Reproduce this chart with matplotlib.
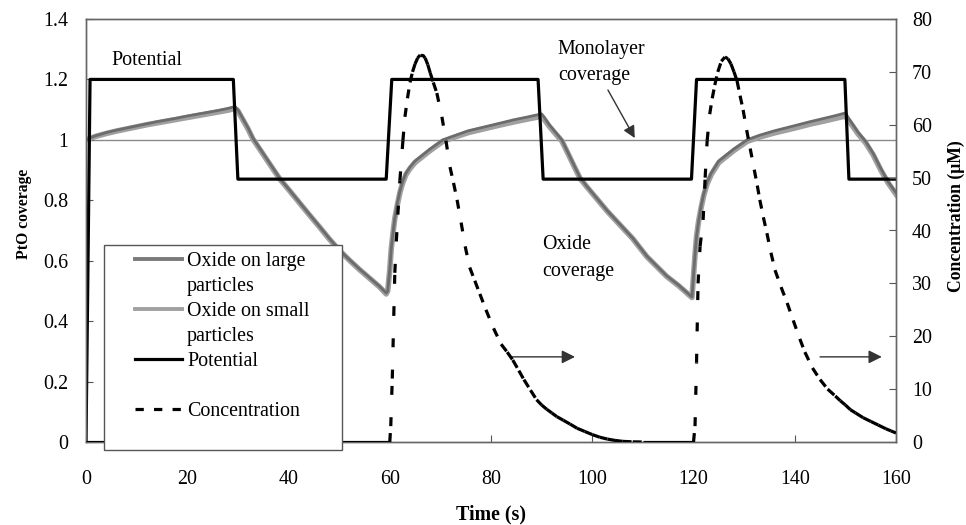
import numpy as np
import matplotlib
matplotlib.use('Agg')
import matplotlib.pyplot as plt
from matplotlib.collections import LineCollection
from matplotlib.lines import Line2D
from matplotlib.patches import Rectangle

plt.rcParams['font.family'] = ['Liberation Serif', 'DejaVu Serif']

# PtO coverage
t_ox = [0, 1, 2, 4, 6, 8, 10, 12, 14, 16, 18, 20, 22, 24, 26, 28, 29.4,
        30, 31, 32, 33, 34, 35, 36, 37, 38.3, 40, 42, 44, 46, 48, 50, 52, 54, 56, 58, 59.3,
        59.6, 60.0, 60.3, 60.7, 61.0, 61.5, 62.0, 62.5, 63.2, 64.0, 65, 66.5, 68, 70.5,
        73, 75.5, 78, 81, 84.4, 87, 90,
        90.5, 91.5, 92.5, 94, 95, 96, 97.6, 99, 101, 103, 105.5, 108, 110.8, 114.7, 117, 119.7,
        120.0, 120.3, 120.6, 121.0, 121.5, 122.0, 122.7, 123.5, 125, 126.5, 128, 130.6,
        133, 136, 140, 143, 146, 148, 150,
        150.5, 151.5, 152.5, 154, 155.5, 157, 158.5, 160]
ox_large = [1.00, 1.008, 1.014, 1.024, 1.032, 1.039, 1.046, 1.053, 1.060, 1.066, 1.072, 1.079,
            1.085, 1.091, 1.097, 1.104, 1.110,
            1.100, 1.070, 1.040, 1.005, 0.980, 0.955, 0.930, 0.905, 0.872, 0.838, 0.797, 0.756,
            0.716, 0.675, 0.637, 0.604, 0.573, 0.544, 0.515, 0.493,
            0.50, 0.57, 0.64, 0.70, 0.74, 0.79, 0.83, 0.86, 0.89, 0.91, 0.93, 0.95, 0.97, 1.00,
            1.015, 1.03, 1.04, 1.052, 1.066, 1.075, 1.086,
            1.075, 1.05, 1.03, 1.00, 0.965, 0.93, 0.875, 0.845, 0.805, 0.765, 0.72, 0.675,
            0.615, 0.55, 0.52, 0.48,
            0.55, 0.62, 0.68, 0.73, 0.78, 0.82, 0.86, 0.89, 0.93, 0.95, 0.97, 1.00,
            1.015, 1.03, 1.047, 1.06, 1.072, 1.08, 1.089,
            1.075, 1.05, 1.025, 0.995, 0.955, 0.905, 0.86, 0.825]
ox_small = [1.00, 1.006, 1.012, 1.021, 1.029, 1.036, 1.043, 1.050, 1.056, 1.062, 1.068, 1.074,
            1.080, 1.086, 1.092, 1.098, 1.104,
            1.096, 1.066, 1.036, 1.002, 0.977, 0.952, 0.927, 0.902, 0.870, 0.836, 0.795, 0.754,
            0.714, 0.673, 0.635, 0.602, 0.571, 0.542, 0.513, 0.490,
            0.50, 0.57, 0.64, 0.70, 0.74, 0.785, 0.825, 0.855, 0.885, 0.905, 0.925, 0.945, 0.965,
            0.995, 1.01, 1.024, 1.034, 1.046, 1.059, 1.068, 1.078,
            1.068, 1.045, 1.025, 0.996, 0.962, 0.927, 0.872, 0.843, 0.803, 0.763, 0.718, 0.673,
            0.613, 0.548, 0.518, 0.478,
            0.55, 0.62, 0.68, 0.73, 0.775, 0.815, 0.855, 0.885, 0.925, 0.945, 0.965, 0.995,
            1.009, 1.023, 1.039, 1.052, 1.063, 1.071, 1.079,
            1.067, 1.044, 1.02, 0.99, 0.95, 0.9, 0.856, 0.82]

# applied potential, plotted on the PtO axis
t_pot = [0, 0.8, 29.1, 30.0, 59.3, 60.4, 89.3, 90.3, 119.6, 120.6, 149.9, 150.7, 160]
pot = [0, 1.2, 1.2, 0.87, 0.87, 1.2, 1.2, 0.87, 0.87, 1.2, 1.2, 0.87, 0.87]

# dissolved Pt concentration (uM)
t_conc = [0, 60.0, 60.2, 60.5, 60.8, 61.0, 61.3, 61.6, 62.0, 62.6, 63.0, 63.5, 64.0, 64.5,
          65.0, 65.5, 66.0, 66.5, 67.0, 67.5, 68.0, 68.6, 69.3, 70.3, 71.1, 71.9, 72.6, 73.3,
          74.1, 74.9, 75.8, 76.8, 77.8, 79, 80.5, 82, 83.2, 84.3, 85.5, 86.5, 87.8, 89, 90, 91,
          92, 93, 94.3, 95.6, 97, 98.5, 100, 101.5, 103, 104.5, 106, 108, 110, 120.0,
          120.3, 120.6, 120.9, 121.3, 121.9, 122.3, 122.7, 123.2, 123.7, 124.2, 124.8, 125.5,
          126.2, 126.8, 127.4, 128, 128.6, 129.2, 129.8, 130.5, 131.2, 132, 132.6, 133.1, 133.8,
          134.5, 135.3, 136.1, 137.3, 138.5, 139.7, 141, 142, 143.5, 145, 146.5, 148, 149,
          150, 151, 152, 153.5, 155, 156.5, 158, 159, 160]
conc = [0, 0, 3, 12, 24, 32, 38, 43, 49.5, 57, 61.5, 65, 68, 70,
        71.5, 72.6, 73.2, 73.2, 72.6, 71.4, 69.8, 68, 66, 61.5, 57, 52, 49, 45.8,
        41.5, 37, 33, 30.5, 28, 25, 21.5, 18.5, 17, 15.5, 13.5, 11.8, 9.8, 8, 7, 6.2,
        5.5, 4.8, 4.1, 3.4, 2.6, 2.0, 1.4, 0.9, 0.55, 0.3, 0.12, 0.03, 0, 0,
        3, 15, 30, 37, 42, 50, 57, 62, 65, 67.5, 70, 72,
        72.8, 72.5, 71.5, 70, 68.3, 65.5, 62.8, 59, 55.5, 51.5, 48.5, 45.8, 42.5,
        39.5, 35.8, 32.5, 29.3, 26.3, 23, 19.5, 17, 14, 11.8, 10, 8.7, 7.8,
        7, 6.1, 5.5, 4.6, 3.9, 3.2, 2.5, 2.1, 1.7]

monolayer = 1.0
xticks = [0, 20, 40, 60, 80, 100, 120, 140, 160]
yticks_left = [0, 0.2, 0.4, 0.6, 0.8, 1.0, 1.2, 1.4]
ylabels_left = ['0', '0.2', '0.4', '0.6', '0.8', '1', '1.2', '1.4']
yticks_right = [0, 10, 20, 30, 40, 50, 60, 70, 80]

FS = 14.4
W, H = 966, 525
fig = plt.figure(figsize=(W / 100, H / 100), dpi=100)
ax = fig.add_axes([86 / W, 1 - 442 / H, 810 / W, 423 / H])
ax2 = ax.twinx()
ax2.patch.set_visible(False)

ax.axhline(monolayer, color='#8a8a8a', lw=1, zorder=1)
ax.plot(t_ox, ox_small, color='#a0a0a0', lw=4.0, zorder=2)
ax.plot(t_ox, ox_large, color='#6c6c6c', lw=2.0, zorder=3)
ax.plot(t_pot, pot, color='black', lw=2.3, zorder=4)

# dashed concentration, dash pattern restarts on every segment
pts = np.column_stack([t_conc, conc])
segs = np.stack([pts[:-1], pts[1:]], axis=1)
styles = ['solid' if (a[1] == 0 and b[1] == 0) else (0, (2.8, 7)) for a, b in segs]
lc = LineCollection(segs, colors='black', linewidths=2.3, linestyles=styles, zorder=5)
ax2.add_collection(lc)

ax.set_xlim(0, 160)
ax.set_ylim(0, 1.4)
ax2.set_ylim(0, 80)
ax.set_xticks(xticks)
ax.set_yticks(yticks_left)
ax.set_yticklabels(ylabels_left)
ax2.set_yticks(yticks_right)

ax.tick_params(axis='x', direction='in', length=5, pad=20, labelsize=FS, color='#555555')
ax.tick_params(axis='y', direction='in', length=5, pad=13, labelsize=FS, color='#555555')
ax2.tick_params(axis='y', direction='in', length=5, pad=11.5, labelsize=FS, color='#555555')
for a in (ax, ax2):
    for s in a.spines.values():
        s.set_color('#666666')
        s.set_linewidth(1)

ax.set_xlabel('Time (s)', fontsize=FS, fontweight='bold')
ax.xaxis.set_label_coords(0.5, -0.148)
ax.set_ylabel('PtO coverage', fontsize=11.3, fontweight='bold')
ax.yaxis.set_label_coords(-0.0667, 0.54)
ax2.set_ylabel('Concentration (μM)', fontsize=12.7, fontweight='bold')
ax2.yaxis.set_label_coords(1.064, 0.535)

ax.text(5.1, 1.264, 'Potential', fontsize=FS, ha='left', va='center')
ax.text(93.2, 1.255, 'Monolayer\ncoverage', fontsize=FS, ha='left', va='center', linespacing=1.5)
ax.text(90.1, 0.608, 'Oxide\ncoverage', fontsize=FS, ha='left', va='center', linespacing=1.6)
ax.annotate('', xy=(108.4, 1.006), xytext=(103.1, 1.165),
            arrowprops=dict(arrowstyle='-|>', color='#333333', lw=1, mutation_scale=18,
                            shrinkA=0, shrinkB=0))
for x0, x1 in [(84.1, 96.6), (145.0, 157.2)]:
    ax2.annotate('', xy=(x1, 16.1), xytext=(x0, 16.1),
                 arrowprops=dict(arrowstyle='-|>', color='#333333', lw=1, mutation_scale=20,
                                 shrinkA=0, shrinkB=0))

# legend box drawn by hand so the padding matches
box = Rectangle((104 / W, 1 - 450 / H), 238 / W, 205 / H, transform=fig.transFigure,
                facecolor='white', edgecolor='#555555', lw=1, zorder=3)
fig.add_artist(box)
blank = Line2D([], [], color='none')
handles = [Line2D([], [], color='#7a7a7a', lw=2.8), blank,
           Line2D([], [], color='#a0a0a0', lw=2.8), blank,
           Line2D([], [], color='black', lw=2.3), blank,
           Line2D([], [], color='black', lw=2.3, dashes=(2.6, 3.2)), blank]
labels = ['Oxide on large', 'particles', 'Oxide on small', 'particles', 'Potential', ' ',
          'Concentration', ' ']
fig.legend(handles, labels, loc='upper left', bbox_to_anchor=(135 / W, 1 - 252 / H),
           frameon=False, borderpad=0, borderaxespad=0, handlelength=2.35,
           handletextpad=0.25, labelspacing=0.3, fontsize=FS)

fig.savefig('out.png', dpi=100)
